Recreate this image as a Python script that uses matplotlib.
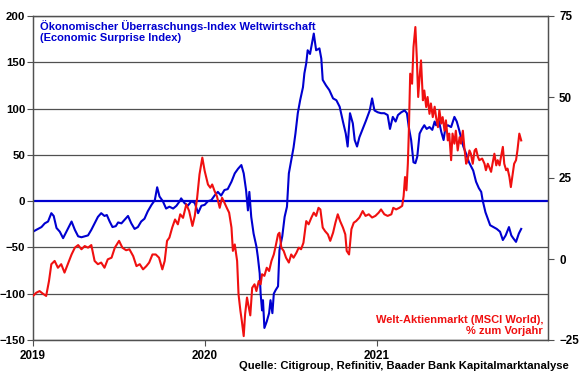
import matplotlib
matplotlib.use("Agg")
import matplotlib.pyplot as plt
import matplotlib.dates as mdates
import pandas as pd

plt.rcParams['font.family'] = ['Liberation Sans', 'DejaVu Sans']

START = "2019-01-01"

# Economic Surprise Index (left axis): day offsets from START and values
esi_days = [0,7,18,25,32,39,44,50,57,64,71,77,82,89,96,103,110,117,124,131,138,145,152,157,163,169,176,181,188,195,202,209,216,223,230,237,244,252,259,264,269,276,283,290,298,305,312,315,322,329,337,344,351,358,365,372,379,386,393,400,407,414,422,429,436,443,448,453,457,460,464,469,475,478,482,484,487,489,492,497,502,505,509,512,516,521,524,530,535,540,544,549,554,558,563,568,574,577,581,584,589,593,597,602,609,613,616,623,630,638,645,652,659,665,669,674,680,684,689,694,701,708,716,721,726,733,740,747,754,759,765,771,776,783,790,795,799,804,809,813,817,822,827,832,837,843,849,854,857,863,868,873,877,882,889,896,901,906,910,915,921,927,932,936,942,948,953,956,962,967,972,979,986,993,999,1005,1012,1017,1021,1027,1033,1038]
esi_vals = [-33,-31,-28,-24,-22,-13,-16,-29,-33,-40,-33,-27,-22,-31,-38,-39,-38,-37,-31,-24,-17,-13,-16,-15,-22,-28,-27,-23,-24,-20,-16,-24,-30,-28,-22,-19,-11,-4,1,15,5,0,-8,-6,-8,-5,0,3,-2,-5,0,-2,-13,-5,-4,0,1,6,10,6,12,13,21,30,35,39,30,12,-10,10,-17,-35,-49,-60,-78,-100,-118,-107,-137,-130,-121,-107,-121,-100,-96,-92,-53,-38,-17,-6,30,44,58,73,95,109,123,138,149,163,159,170,181,163,165,154,131,125,120,111,109,102,86,73,59,95,84,66,59,69,78,87,98,111,98,96,95,95,93,78,91,86,93,96,98,95,80,66,42,41,48,73,78,82,78,80,77,86,82,87,75,66,80,82,80,91,86,77,69,59,51,42,37,33,21,14,10,1,-12,-19,-26,-28,-30,-33,-42,-37,-28,-37,-40,-44,-35,-30]

# MSCI World, % y/y (right axis)
msci_days = [0,7,14,21,28,34,39,46,53,60,67,74,82,89,96,103,110,117,124,131,138,145,152,159,167,174,183,190,198,205,213,220,227,234,241,247,254,261,268,275,280,285,290,296,302,308,313,319,326,332,339,344,349,354,360,365,372,377,381,386,391,397,402,407,412,417,422,425,429,434,437,441,444,448,451,455,459,462,466,471,475,480,484,487,492,497,502,507,512,516,521,524,528,533,538,544,549,554,560,565,570,575,581,586,592,597,602,607,611,616,621,627,632,638,643,648,653,659,664,667,672,677,682,687,694,701,707,714,721,728,735,740,747,754,762,766,772,779,785,788,791,794,797,799,802,806,809,813,816,819,822,825,829,832,836,839,843,846,850,854,857,861,864,868,871,875,878,882,885,889,892,896,899,903,907,910,914,917,921,924,928,931,935,939,942,946,949,955,960,963,967,970,974,977,981,985,988,992,995,999,1002,1006,1009,1013,1016,1020,1023,1027,1030,1034,1038]
msci_vals = [-11.4,-10.4,-9.9,-10.7,-11.4,-6.8,-1.6,-0.6,-2.7,-1.6,-4.2,-1.6,1.4,3.5,4.3,3.0,4.0,3.5,4.3,-0.6,-1.6,-1.1,-2.7,-0.1,0.4,3.5,5.6,3.5,2.7,3.0,0.9,-2.2,-1.6,-3.2,-2.2,-1.1,1.4,1.4,0.4,-3.2,-0.6,5.6,6.6,9.7,12.2,10.7,13.8,12.7,16.9,14.8,10.2,13.3,18.9,26.1,31.3,27.2,23.0,22.0,23.0,21.0,19.4,15.8,18.9,17.4,15.8,14.3,9.7,2.5,4.5,-0.6,-10.9,-16.0,-19.1,-23.8,-17.0,-11.9,-15.0,-17.4,-8.9,-7.8,-9.9,-6.8,-7.8,-4.7,-5.2,-2.7,-3.7,-0.6,1.4,4.0,7.6,8.1,3.5,2.5,0.4,-1.1,1.4,0.4,1.9,3.5,3.0,5.0,11.7,10.7,12.8,14.3,13.3,15.8,15.3,9.7,8.6,7.6,5.6,8.1,11.2,13.8,11.7,9.7,7.6,2.5,1.4,9.2,11.2,11.7,12.8,14.8,13.3,13.8,12.8,13.3,14.3,15.3,13.8,13.3,13.8,15.8,15.3,15.8,16.4,19.4,25.3,21.2,29.4,38.7,57.2,54.1,65.4,71.6,62.3,50.0,56.2,61.3,49.0,52.0,46.9,50.0,44.8,48.0,43.8,47.0,43.8,40.7,46.0,41.8,43.8,39.6,42.8,36.6,38.7,30.5,38.7,35.6,39.6,33.5,37.6,35.6,39.6,34.6,29.4,30.5,33.5,32.5,29.4,33.5,34.0,31.5,30.5,31.0,29.4,27.4,29.4,28.4,26.9,29.4,32.5,28.9,30.5,28.9,31.5,34.6,29.4,27.4,27.9,25.3,22.2,26.4,29.4,30.5,33.5,38.7,36.6]

left_ticks = [-150, -100, -50, 0, 50, 100, 150, 200]
right_ticks = [-25, 0, 25, 50, 75]
year_ticks = ["2019-01-01", "2020-01-01", "2021-01-01"]

title_text = "Ökonomischer Überraschungs-Index Weltwirtschaft\n(Economic Surprise Index)"
msci_text = "Welt-Aktienmarkt (MSCI World),\n% zum Vorjahr"
source_text = "Quelle: Citigroup, Refinitiv, Baader Bank Kapitalmarktanalyse"

BLUE = "#0000d0"
RED = "#f01010"
GRID = "#505050"

start = pd.Timestamp(START)
esi_dates = start + pd.to_timedelta(esi_days, unit="D")
msci_dates = start + pd.to_timedelta(msci_days, unit="D")

fig = plt.figure(figsize=(5.8, 3.75), dpi=100)
ax = fig.add_axes([33/580, 1-340/375, (548-33)/580, (340-16)/375])
ax2 = ax.twinx()

ax.set_ylim(-150, 200)
ax.set_yticks(left_ticks)
ax.set_xlim(pd.Timestamp("2019-01-01"), pd.Timestamp("2021-12-31"))
ax.set_xticks(pd.to_datetime(year_ticks))
ax.xaxis.set_major_formatter(mdates.DateFormatter("%Y"))

for t in left_ticks:
    if t != 0:
        ax.axhline(t, color=GRID, lw=0.9, zorder=1)
ax.axhline(0, color=BLUE, lw=1.6, zorder=2)

ax.plot(esi_dates, esi_vals, color=BLUE, lw=1.5, zorder=4)

ax2.set_ylim(-25, 75)
ax2.set_yticks(right_ticks)
ax2.plot(msci_dates, msci_vals, color=RED, lw=1.5, zorder=3)

for a in (ax, ax2):
    for s in a.spines.values():
        s.set_color(GRID)
        s.set_linewidth(0.9)

ax.tick_params(axis="y", direction="out", length=4, color=GRID, labelsize=8.2, pad=1.5)
ax.tick_params(axis="x", direction="out", length=4, color=GRID, labelsize=8.4, pad=3)
ax2.tick_params(axis="y", direction="out", length=4, color=GRID, labelsize=8.4, pad=4)
for lab in ax.get_xticklabels() + ax.get_yticklabels() + ax2.get_yticklabels():
    lab.set_fontweight("bold")

fig.text(40/580, 1-20/375, title_text, color=BLUE, fontsize=8.0, fontweight="bold",
         ha="left", va="top", linespacing=1.08)
fig.text(543/580, 1-315/375, msci_text, color=RED, fontsize=8.0, fontweight="bold",
         ha="right", va="top", linespacing=1.08, multialignment="right")
fig.text(569/580, 1-366/375, source_text, color="black", fontsize=8.1, fontweight="bold",
         ha="right", va="center")

fig.savefig("out.png", dpi=100)
